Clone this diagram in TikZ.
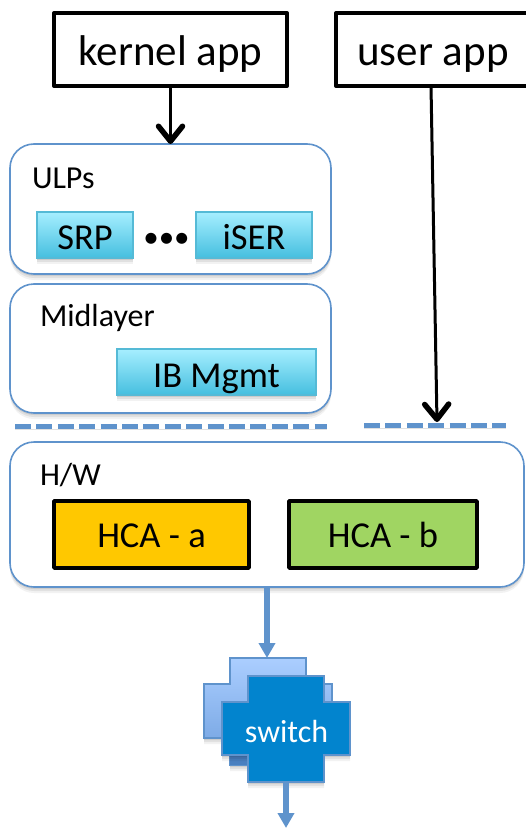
\documentclass[tikz,border=0pt]{standalone}
\usepackage{fontspec}
\setmainfont{Carlito}
\usetikzlibrary{arrows.meta,shadows,positioning}
\definecolor{edgeblue}{HTML}{5F93CC}
\definecolor{cyantop}{HTML}{A6EEFF}
\definecolor{cyanbot}{HTML}{45BFDF}
\definecolor{cyanedge}{HTML}{55BAD6}
\definecolor{hcaa}{HTML}{FFC800}
\definecolor{hcab}{HTML}{A0D562}
\definecolor{swfront}{HTML}{0284CE}
\definecolor{swbacktop}{HTML}{ABCEFF}
\definecolor{swbackbot}{HTML}{6E9FDE}
\definecolor{swbackdark}{HTML}{4A80C0}
\tikzset{
  softshadow/.style={
    drop shadow={shadow xshift=0pt,shadow yshift=-6pt,opacity=.05,fill=black},
    drop shadow={shadow xshift=0pt,shadow yshift=-4pt,opacity=.07,fill=black},
    drop shadow={shadow xshift=0pt,shadow yshift=-2pt,opacity=.09,fill=black}},
  lineshadow/.style={preaction={draw=black,draw opacity=.12,transform canvas={yshift=-3pt}}},
  appbox/.style={draw=black,line width=4pt,line join=round,fill=white,inner sep=0pt,outer sep=0pt},
  layerbox/.style={draw=edgeblue,line width=1.6pt,fill=white,rounded corners=24pt,inner sep=0pt,outer sep=0pt,softshadow},
  cyanbox/.style={draw=cyanedge,line width=1.6pt,top color=cyantop,bottom color=cyanbot,inner sep=0pt,outer sep=0pt,softshadow},
  hcabox/.style={draw=black,line width=3.5pt,line join=round,inner sep=0pt,outer sep=0pt},
  plain/.style={inner sep=0pt,outer sep=0pt},
  txtA/.style={font=\fontsize{43}{43}\selectfont},
  txtB/.style={font=\fontsize{36.5}{36.5}\selectfont},
  txtC/.style={font=\fontsize{32}{32}\selectfont},
  blackarrow/.style={draw=black,line width=3pt,-{Straight Barb[length=15pt,width=24pt,line width=5.5pt,round]}},
  bluearrow/.style={draw=edgeblue,line width=5.5pt,-{Triangle[length=15pt,width=16pt]}},
  busline/.style={draw=edgeblue,line width=5.7pt,dash pattern=on 16pt off 5.4pt,lineshadow},
  crossline/.style={draw=edgeblue,line width=1.5pt,line join=miter},
}
\begin{document}
\begin{tikzpicture}[x=1pt,y=-1pt]
\useasboundingbox (0,0) rectangle (525,829);
% application boxes
\node[appbox,txtA,text height=33pt,text depth=0pt,minimum width=233pt,minimum height=73pt] (kernel) at (170.5,49.5) {kernel app};
\node[appbox,txtA,text height=33pt,text depth=0pt,minimum width=194pt,minimum height=73pt] (user) at (433,49.5) {user app};
% layers
\node[layerbox,minimum width=321pt,minimum height=130pt] (ulps) at (170.5,209) {};
\node[layerbox,minimum width=321pt,minimum height=129pt] (mid) at (170.5,348.5) {};
\node[layerbox,minimum width=514pt,minimum height=145pt] (hw) at (267,514.5) {};
\node[plain,txtC,anchor=base west] (ulpslabel) at (32,188) {ULPs};
\node[plain,txtC,anchor=base west] (midlabel) at (40,326) {Midlayer};
\node[plain,txtC,anchor=base west] (hwlabel) at (40,485) {H/W};
% inner boxes
\node[cyanbox,txtB,text height=28pt,text depth=0pt,minimum width=96pt,minimum height=46pt] (srp) at (85,235) {SRP};
\node[cyanbox,txtB,text height=28pt,text depth=0pt,minimum width=116pt,minimum height=46pt] (iser) at (254,235) {iSER};
\node[plain,font=\fontsize{31}{31}\selectfont] (dots) at (166.5,240) {•••};
\node[cyanbox,txtB,text height=30pt,text depth=0pt,minimum width=199pt,minimum height=46pt] (ib) at (216.5,372) {IB Mgmt};
\node[hcabox,fill=hcaa,txtB,text height=26pt,text depth=0pt,minimum width=195pt,minimum height=67pt] (hcaa) at (151.5,534.5) {HCA - a};
\node[hcabox,fill=hcab,txtB,text height=26pt,text depth=0pt,minimum width=188pt,minimum height=67pt] (hcab) at (383,534.5) {HCA - b};
% bus dashes
\coordinate (busLa) at (15,426.5);
\coordinate (busLb) at (327,426.5);
\coordinate (busRa) at (364,425.5);
\coordinate (busRb) at (506,425.5);
\draw[busline] (busLa) -- (busLb);
\draw[busline] (busRa) -- (busRb);
% switch
\path[crossline,top color=swbacktop,bottom color=swbackbot,softshadow]
  (230,658) -- (306,658) -- (306,684) -- (332,684) -- (332,738) -- (306,738) -- (306,765) -- (230,765) -- (230,738) -- (204,738) -- (204,684) -- (230,684) -- cycle;
\fill[swbackdark] (230,750) rectangle (250,765);
\draw[crossline,fill=swfront,softshadow]
  (248,676) -- (324,676) -- (324,702) -- (350,702) -- (350,755) -- (324,755) -- (324,782) -- (248,782) -- (248,755) -- (222,755) -- (222,702) -- (248,702) -- cycle;
\node[plain,text=white,txtC,anchor=base] (switch) at (286.5,742) {switch};
\coordinate (swtop) at (267,658);
\coordinate (swbot) at (286,782);
\coordinate (swout) at (286,828);
% connectors
\draw[blackarrow] (kernel.south) -- (ulps.north);
\coordinate (userto) at (437,422);
\draw[blackarrow] ([xshift=-2pt]user.south) -- (userto);
\draw[bluearrow] (hw.south) -- (swtop);
\draw[bluearrow] (swbot) -- (swout);
\end{tikzpicture}
\end{document}
